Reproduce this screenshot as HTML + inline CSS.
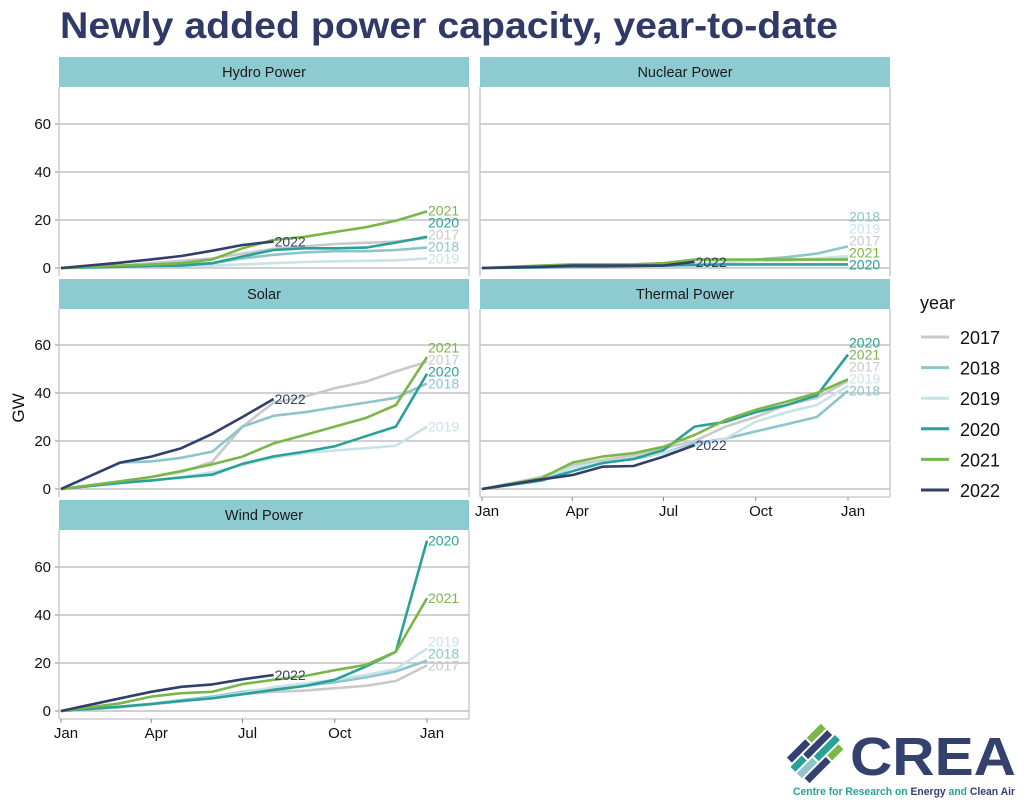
<!DOCTYPE html>
<html><head><meta charset="utf-8">
<style>
html,body{margin:0;padding:0;background:#fff;}
body{width:1024px;height:802px;overflow:hidden;font-family:"Liberation Sans",Arial,sans-serif;}
</style></head>
<body>
<svg id="chart" width="1024" height="802" xmlns="http://www.w3.org/2000/svg" font-family="Liberation Sans, Arial, sans-serif">
<text x="60" y="38" font-size="37" font-weight="bold" fill="#2f3a66" textLength="778" lengthAdjust="spacingAndGlyphs">Newly added power capacity, year-to-date</text>
<text transform="translate(24,408) rotate(-90)" text-anchor="middle" font-size="17" fill="#111">GW</text>
<g id="panels"></g>
<g id="legend"></g>
<g>
  <g transform="translate(818,752) rotate(-45)">
    <rect x="-26" y="-18" width="26" height="7" fill="#34406e"/>
    <rect x="2" y="-18" width="20" height="7" fill="#7ab648"/>
    <rect x="-30" y="-9" width="16" height="7" fill="#2aa198"/>
    <rect x="-12" y="-9" width="34" height="7" fill="#34406e"/>
    <rect x="-30" y="0" width="22" height="7" fill="#8cc5cc"/>
    <rect x="-6" y="0" width="30" height="7" fill="#2aa198"/>
    <rect x="-28" y="9" width="30" height="7" fill="#34406e"/>
    <rect x="4" y="9" width="16" height="7" fill="#7ab648"/>
  </g>
  <text x="850" y="775" font-size="54" font-weight="bold" fill="#34406e" textLength="166" lengthAdjust="spacingAndGlyphs">CREA</text>
  <text x="793" y="795" font-size="11" font-weight="bold" fill="#2aa198" textLength="222" lengthAdjust="spacingAndGlyphs">Centre for Research on <tspan fill="#34406e">Energy</tspan> and <tspan fill="#34406e">Clean Air</tspan></text>
</g>
</svg>
<script>
const years = ["2017","2018","2019","2020","2021","2022"];
const colors = ["#c9c9c9","#8cc5cc","#c8e3e8","#2aa198","#7ab648","#323f6b"];
const monthDays = [0,59,90,120,151,181,212,243,273,304,334,365];
const xTickLabels = ["Jan","Apr","Jul","Oct","Jan"];
const xTickDays = [0,90,181,273,365];
const yTicks = [0,20,40,60];

const hydro2017 = [0,1,2,3,4,6,8,9,10,10.5,11,12.5];
const hydro2018 = [0,0.5,1,1.5,2,4,5.5,6.5,7,7,7.5,8.5];
const hydro2019 = [0,0.3,0.5,0.8,1,1.5,2,2.5,2.8,3,3.2,4];
const hydro2020 = [0,0.5,0.8,1,2,4.8,7.5,8.2,8.2,8.5,10.6,13];
const hydro2021 = [0,1,1.4,2,3.6,8.2,11.7,13,15,17,19.7,23.6];
const hydro2022 = [0,2.2,3.6,5,7.2,9.6,11];

const nuclear2017 = [0,0.3,0.5,0.8,1,1.5,2,2.5,3,3.2,3.5,4];
const nuclear2018 = [0,0.5,0.8,1,1.2,1.5,2,2.5,3.5,4.5,6,9];
const nuclear2019 = [0,0.5,1,1,1.2,1.5,2,2.5,3,3.5,4,5];
const nuclear2020 = [0,0.3,0.5,0.5,0.8,1,1.2,1.5,1.5,1.5,1.5,1.5];
const nuclear2021 = [0,1,1.5,1.5,1.5,2,3.5,3.5,3.5,3.5,3.5,3.5];
const nuclear2022 = [0,0.5,1,1,1,1,2.6];

const solar2017 = [0,3,5,7,11.4,26,36,38.5,42,44.7,49,53];
const solar2018 = [0,11,11.5,13,15.6,26,30.5,32,34,36,38,44];
const solar2019 = [0,2.5,3.5,5,7,10,13,15,16,17,18,26];
const solar2020 = [0,2.5,3.6,4.8,6,10.5,13.6,15.6,17.8,22,26,48];
const solar2021 = [0,3.2,5,7.5,10.3,13.5,19,22.5,26,29.6,35,55];
const solar2022 = [0,11,13.5,17,23,30,37.5];

const thermal2017 = [0,5,10,12,14,17,20,26,30,35,38,45];
const thermal2018 = [0,4,9,11,12.5,15,19,21,24,27,30,41];
const thermal2019 = [0,4.5,9,11,13,15,18,21,28,32,35,43];
const thermal2020 = [0,3.5,7.4,10.8,12.5,16.2,26,28,32,35,39,56];
const thermal2021 = [0,4.4,11,13.5,14.9,17.6,22.5,28.8,33,36.4,40,45.7];
const thermal2022 = [0,4,5.8,9.3,9.6,13.5,18.3];

const wind2017 = [0,1.5,2.8,4,5.5,7,8,8.5,9.5,10.5,12.5,19];
const wind2018 = [0,1.8,3,4.5,6,8,9.5,10.5,12,14,16.5,21];
const wind2019 = [0,1.7,3,4.2,5.5,7.5,10,11.5,13,15,17.5,26];
const wind2020 = [0,1.8,2.9,4.2,5.3,7,8.8,10.4,13,18.5,24.7,71];
const wind2021 = [0,3.2,6,7.4,8,11.2,13,14.6,17,19.2,24.7,47];
const wind2022 = [0,5.3,8,10.1,11.1,13.2,15];

const NS="http://www.w3.org/2000/svg";
function mk(tag, attrs, parent){const e=document.createElementNS(NS,tag);for(const k in attrs)e.setAttribute(k,attrs[k]);if(parent)parent.appendChild(e);return e;}

const panels=[
 {title:"Hydro Power",slug:"hydro",col:0,row:0,data:[hydro2017,hydro2018,hydro2019,hydro2020,hydro2021,hydro2022],yl:true,xl:false},
 {title:"Nuclear Power",slug:"nuclear",col:1,row:0,data:[nuclear2017,nuclear2018,nuclear2019,nuclear2020,nuclear2021,nuclear2022],yl:false,xl:false},
 {title:"Solar",slug:"solar",col:0,row:1,data:[solar2017,solar2018,solar2019,solar2020,solar2021,solar2022],yl:true,xl:false},
 {title:"Thermal Power",slug:"thermal",col:1,row:1,data:[thermal2017,thermal2018,thermal2019,thermal2020,thermal2021,thermal2022],yl:false,xl:true},
 {title:"Wind Power",slug:"wind",col:0,row:2,data:[wind2017,wind2018,wind2019,wind2020,wind2021,wind2022],yl:true,xl:true}
];
const colX=[59,480], W=410;
const stripTop=[57,279,500], zeroY=[268,489,711];
const root=document.getElementById('panels');
panels.forEach(p=>{
  const L=colX[p.col], st=stripTop[p.row], z=zeroY[p.row], top=st+30, bottom=z+8;
  const xs=d=>L+2+d*366/365;
  const ys=v=>z-v*2.4;
  const g=mk('g',{},root);
  
  
  const strip=mk('rect',{x:L,y:st,width:W,height:30,fill:'#8ecbd1'},g);
  
  
  const st_t=mk('text',{x:L+W/2,y:st+20,'text-anchor':'middle','font-size':14.5,fill:'#1a1a1a'},g);
  st_t.textContent=p.title;
  
  
  yTicks.forEach(t=>{
    const gl=mk('line',{x1:L,x2:L+W,y1:ys(t),y2:ys(t),stroke:'#b5b5b5','stroke-width':1.3},g);
    
    
    if(p.yl){
      mk('line',{x1:L-4,x2:L,y1:ys(t),y2:ys(t),stroke:'#888'},g);
      const tl=mk('text',{x:L-8,y:ys(t)+5,'text-anchor':'end','font-size':15,fill:'#111'},g);
      tl.textContent=t;
      
      
    }
  });
  mk('line',{x1:L,x2:L,y1:top,y2:bottom,stroke:'#c4c4c4','stroke-width':1.3},g);
  mk('line',{x1:L+W,x2:L+W,y1:top,y2:bottom,stroke:'#c4c4c4','stroke-width':1.3},g);
  if(p.xl){
    mk('line',{x1:L,x2:L+W,y1:bottom,y2:bottom,stroke:'#c4c4c4','stroke-width':1.3},g);
    xTickDays.forEach((d,i)=>{
      mk('line',{x1:xs(d),x2:xs(d),y1:bottom,y2:bottom+4,stroke:'#888'},g);
      const tl=mk('text',{x:xs(d)+5,y:bottom+19,'text-anchor':'middle','font-size':15,fill:'#111'},g);
      tl.textContent=xTickLabels[i];
      
      
    });
  }
  const labs=[];
  p.data.forEach((arr,i)=>{
    const pts=arr.map((v,j)=>xs(monthDays[j]).toFixed(1)+','+ys(v).toFixed(1)).join(' ');
    const pl=mk('polyline',{points:pts,fill:'none',stroke:colors[i],'stroke-width':2.6,'stroke-linejoin':'round'},g);
    
    
    const n=arr.length-1;
    labs.push({i:i,x:xs(monthDays[n])+1,y:ys(arr[n])});
  });
  const groups={};
  labs.forEach(l=>{const k=Math.round(l.x);(groups[k]=groups[k]||[]).push(l);});
  Object.values(groups).forEach(gr=>{
    gr.sort((a,b)=>b.y-a.y);
    // push upward from the bottom
    for(let k=1;k<gr.length;k++){ if(gr[k-1].y-gr[k].y<12) gr[k].y=gr[k-1].y-12; }
  });
  labs.forEach(l=>{
    const t=mk('text',{x:l.x,y:l.y+5,'font-size':14,fill:colors[l.i]},g);
    t.textContent=years[l.i];
    
    
  });
});
const lg=document.getElementById('legend');
const lt=mk('text',{x:920,y:309,'font-size':18,fill:'#111'},lg);
lt.textContent='year';


years.forEach((y,i)=>{
  const cy=337+i*30.6;
  const e=mk('g',{},lg);
  
  
  mk('line',{x1:921,x2:949,y1:cy,y2:cy,stroke:colors[i],'stroke-width':3},e);
  const t=mk('text',{x:960,y:cy+7,'font-size':18,fill:'#111'},e);
  t.textContent=y;
});
</script>
</body></html>
